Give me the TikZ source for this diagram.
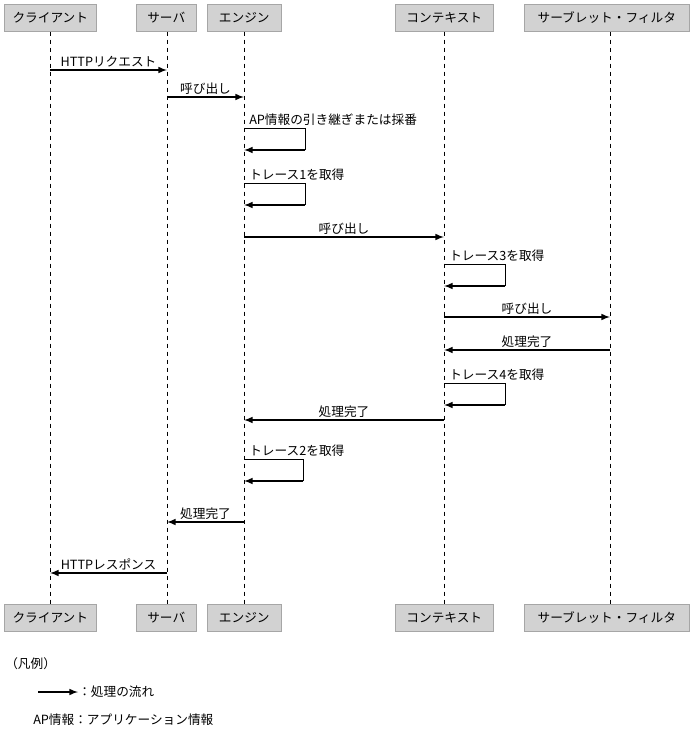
\documentclass[tikz,border=0pt]{standalone}
\usepackage{fontspec}
\setmainfont{Noto Sans CJK JP}
\begin{document}
\begin{tikzpicture}[x=0.75pt,y=-0.75pt,font=\fontsize{9.5}{11}\selectfont,
  box/.style={draw=gray!70,fill=gray!35,minimum height=27*0.75pt,inner sep=0pt,anchor=north west},
  life/.style={dashed,line width=0.6pt},
  msg/.style={-latex,line width=1.2pt},
  slf/.style={line width=0.6pt},
  lbl/.style={inner sep=1.5pt}]
  \useasboundingbox (0,0) rectangle (692,730);
  % top and bottom boxes
  \foreach \n/\x/\w/\t in {cl/4/92/クライアント, sv/136/60/サーバ, en/207/74/エンジン,
                          cx/395/98/コンテキスト, sf/524/165/サーブレット・フィルタ}{
    \node[box,minimum width=\w*0.75pt] (\n t) at (\x,4) {\t};
    \node[box,minimum width=\w*0.75pt] (\n b) at (\x,604) {\t};
  }
  \coordinate (clx) at (50,0);
  \coordinate (svx) at (167,0);
  \coordinate (enx) at (244,0);
  \coordinate (cxx) at (444,0);
  \coordinate (sfx) at (610,0);
  \foreach \n in {cl,sv,en,cx,sf}
    \draw[life] (\n x |- \n t.south) -- (\n x |- \n b.north);

  % messages
  \draw[msg] (clx |- 0,70) -- node[lbl,above] {HTTPリクエスト} (svx |- 0,70);
  \draw[msg] (svx |- 0,97) -- node[lbl,above] {呼び出し} (enx |- 0,97);
  \draw[msg] (enx |- 0,237) -- node[lbl,above] {呼び出し} (cxx |- 0,237);
  \draw[msg] (cxx |- 0,317) -- node[lbl,above] {呼び出し} (sfx |- 0,317);
  \draw[msg] (sfx |- 0,350) -- node[lbl,above] {処理完了} (cxx |- 0,350);
  \draw[msg] (cxx |- 0,420) -- node[lbl,above] {処理完了} (enx |- 0,420);
  \draw[msg] (enx |- 0,522) -- node[lbl,above] {処理完了} (svx |- 0,522);
  \draw[msg] (svx |- 0,573) -- node[lbl,above] {HTTPレスポンス} (clx |- 0,573);

  % self calls
  \foreach \l/\y/\w/\t in {en/128/305/AP情報の引き継ぎまたは採番, en/183/305/トレース1を取得,
                          cx/264/505/トレース3を取得, cx/383/505/トレース4を取得,
                          en/459/303/トレース2を取得}{
    \draw[slf] (\l x |- 0,\y) -- (\w,\y) -- (\w,\y+22);
    \draw[msg] (\w,\y+22) -- (\l x |- 0,\y+22);
    \node[lbl,anchor=south west] at ([xshift=3*0.75pt]\l x |- 0,\y) {\t};
  }

  % legend
  \node[anchor=west,inner sep=0pt] (lg) at (5,664) {（凡例）};
  \coordinate (la) at (38,692);
  \coordinate (lb) at (78,692);
  \draw[msg] (la) -- (lb);
  \node[anchor=west,inner sep=0pt] at (lb) {：処理の流れ};
  \node[anchor=west,inner sep=0pt] at (33,720) {AP情報：アプリケーション情報};
\end{tikzpicture}
\end{document}
